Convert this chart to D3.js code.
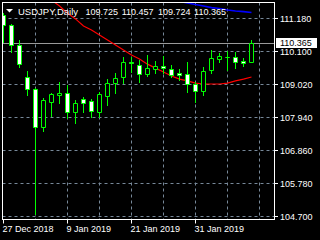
<!DOCTYPE html>
<html lang="en">
<head>
<meta charset="UTF-8">
<title>USDJPY Daily</title>
<script src="https://d3js.org/d3.v7.min.js"></script>
<style>
  body { margin: 0; background: #000; }
  svg { display: block; }
  text { font-family: "Liberation Sans", Arial, sans-serif; font-size: 9px; fill: #fff; }
</style>
</head>
<body>
<script>
// Daily bars, 27 Dec 2018 .. 11 Feb 2019
const dates = ["27 Dec 2018","28 Dec 2018","31 Dec 2018","2 Jan 2019","3 Jan 2019","4 Jan 2019",
  "7 Jan 2019","8 Jan 2019","9 Jan 2019","10 Jan 2019","11 Jan 2019","14 Jan 2019","15 Jan 2019",
  "16 Jan 2019","17 Jan 2019","18 Jan 2019","21 Jan 2019","22 Jan 2019","23 Jan 2019","24 Jan 2019",
  "25 Jan 2019","28 Jan 2019","29 Jan 2019","30 Jan 2019","31 Jan 2019","1 Feb 2019","4 Feb 2019",
  "5 Feb 2019","6 Feb 2019","7 Feb 2019","8 Feb 2019","11 Feb 2019"];
const opens  = [111.28,110.95,110.30,109.25,108.86,107.61,108.43,108.66,108.73,108.10,108.53,108.46,108.10,
  108.63,109.05,109.25,109.74,109.64,109.35,109.51,109.61,109.51,109.38,109.35,109.02,108.79,109.48,
  109.84,109.90,109.90,109.77,109.725];
const highs  = [111.34,110.98,110.46,109.45,108.88,108.56,108.73,109.09,108.99,108.50,108.59,108.53,108.76,
  109.18,109.38,109.90,109.90,109.81,109.97,109.77,109.94,109.64,109.51,109.74,109.09,109.58,110.13,
  110.03,110.10,110.07,109.87,110.457];
const lows   = [110.39,110.07,109.58,108.66,104.77,107.48,107.97,108.40,107.91,107.74,108.10,107.94,107.94,
  108.33,108.73,109.05,109.41,109.09,109.28,109.38,109.38,109.25,109.15,108.76,108.43,108.66,109.38,
  109.74,109.48,109.54,109.61,109.724];
const closes = [110.95,110.30,109.67,108.86,107.61,108.50,108.69,108.71,108.10,108.40,108.40,108.14,108.69,
  109.05,109.22,109.74,109.71,109.35,109.54,109.61,109.54,109.31,109.31,109.02,108.79,109.45,109.87,
  109.94,109.89,109.74,109.72,110.365];
// moving averages (null = off the top of the chart)
const maRed = [null,null,null,null,null,null,111.77,111.57,111.34,111.15,110.92,110.79,110.62,110.46,
  110.30,110.13,109.97,109.84,109.67,109.54,109.41,109.28,109.18,109.12,109.05,109.02,109.02,109.02,
  109.05,109.12,109.18,109.25];
const maBlue = [null,null,null,null,null,null,null,null,null,null,null,null,null,null,null,null,null,null,
  null,null,null,111.80,111.72,111.67,111.62,111.57,111.52,111.49,111.44,111.41,111.39,111.36];

const priceTicks = [111.180, 110.100, 109.020, 107.940, 106.860, 105.780, 104.700];
const dateTickIdx = [0, 8, 16, 24];
const gridIdx = [4, 8, 12, 16, 20, 24, 28, 32];
const symbol = "USDJPY,Daily";

const W = 320, H = 240;
const pLeft = 2.5, pRight = 274.5, pTop = 2.5, pBottom = 219.5;

const svg = d3.select("body").append("svg").attr("width", W).attr("height", H)
  .style("background", "#000");

const x = d3.scaleLinear().domain([0, 32]).range([3, 259]);
const y = d3.scaleLinear().domain([104.70, 111.18]).range([216, 18]);

svg.append("clipPath").attr("id", "plot").append("rect")
  .attr("x", pLeft).attr("y", pTop).attr("width", pRight - pLeft).attr("height", pBottom - pTop);

// grid
const grid = svg.append("g").attr("stroke", "#778899").attr("stroke-dasharray", "3,3");
grid.selectAll("line.h").data(priceTicks).join("line")
  .attr("x1", pLeft).attr("x2", pRight)
  .attr("y1", d => Math.round(y(d)) + 0.5).attr("y2", d => Math.round(y(d)) + 0.5);
grid.selectAll("line.v").data(gridIdx).join("line")
  .attr("y1", pTop).attr("y2", pBottom)
  .attr("x1", d => x(d) + 0.5).attr("x2", d => x(d) + 0.5);

// current price line
const last = closes[closes.length - 1];
svg.append("line").attr("x1", pLeft).attr("x2", pRight)
  .attr("y1", Math.round(y(last)) + 0.5).attr("y2", Math.round(y(last)) + 0.5)
  .attr("stroke", "#9a9a9a");

const plot = svg.append("g").attr("clip-path", "url(#plot)");

// moving averages
const ma = d3.line().defined(d => d != null).x((d, i) => x(i) + 0.5).y(d => y(d));
plot.append("path").attr("d", ma(maBlue)).attr("fill", "none").attr("stroke", "#0000ff").attr("stroke-width", 1.6);
plot.append("path").attr("d", ma(maRed)).attr("fill", "none").attr("stroke", "#ff0000").attr("stroke-width", 1.2);

// candles
const bars = dates.map((d, i) => ({ i, o: opens[i], h: highs[i], l: lows[i], c: closes[i] }));
plot.selectAll("line.wick").data(bars).join("line")
  .attr("x1", d => x(d.i) + 0.5).attr("x2", d => x(d.i) + 0.5)
  .attr("y1", d => Math.round(y(d.h))).attr("y2", d => Math.round(y(d.l)) + 1)
  .attr("stroke", "#00ff00");
plot.selectAll("path.body").data(bars).join("path")
  .attr("d", d => {
    const yt = Math.round(y(Math.max(d.o, d.c)));
    const hh = Math.round(y(Math.min(d.o, d.c))) - yt;
    return `M${x(d.i) - 1.5},${yt + 0.5}h4v${hh}h-4Z`;
  })
  .attr("fill", d => d.c < d.o ? "#ffffff" : "#000000")
  .attr("stroke", "#00ff00");

// frame
svg.append("rect").attr("x", pLeft).attr("y", pTop).attr("width", pRight - pLeft).attr("height", pBottom - pTop)
  .attr("fill", "none").attr("stroke", "#fff");

// price axis
svg.selectAll("line.pt").data(priceTicks).join("line")
  .attr("x1", pRight).attr("x2", pRight + 3.5)
  .attr("y1", d => Math.round(y(d)) + 0.5).attr("y2", d => Math.round(y(d)) + 0.5)
  .attr("stroke", "#fff");
svg.selectAll("text.pl").data(priceTicks).join("text")
  .attr("x", 280).attr("y", d => y(d) + 3.8)
  .text(d => d.toFixed(3));

// current price label
svg.append("rect").attr("x", 276).attr("y", Math.round(y(last)) - 5).attr("width", 41).attr("height", 10)
  .attr("fill", "#fff");
svg.append("text").attr("x", 280).attr("y", y(last) + 3.3).style("fill", "#000").text(last.toFixed(3));

// time axis
svg.selectAll("line.tt").data(dateTickIdx).join("line")
  .attr("x1", d => x(d) + 0.5).attr("x2", d => x(d) + 0.5)
  .attr("y1", pBottom).attr("y2", pBottom + 4)
  .attr("stroke", "#fff");
svg.selectAll("text.tl").data(dateTickIdx).join("text")
  .attr("x", d => x(d) - 0.5).attr("y", 232)
  .text(d => dates[d]);

// title
svg.append("path").attr("d", "M6,9L13,9L9.5,12.5Z").attr("fill", "#fff");
svg.append("text").attr("x", 18).attr("y", 15).style("font-size", "9.5px").text(symbol);
const ohlc = [opens, highs, lows, closes].map(a => a[a.length - 1]);
svg.selectAll("text.ohlc").data(ohlc).join("text")
  .attr("x", (d, i) => 85.5 + i * 36.2).attr("y", 15)
  .text(d => d.toFixed(3));
</script>
</body>
</html>
